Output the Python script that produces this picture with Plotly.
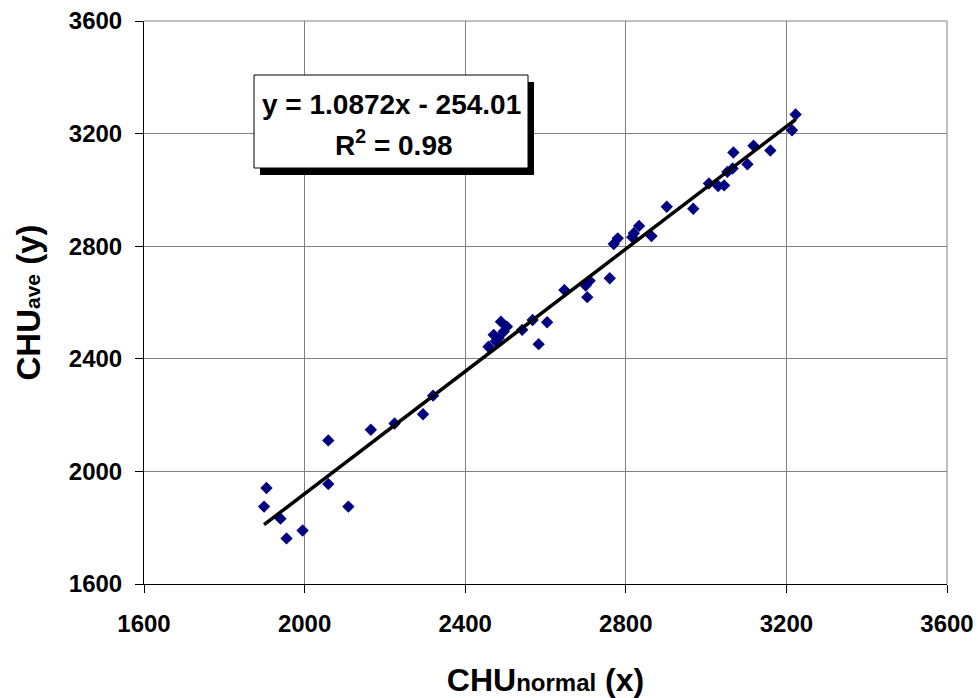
import plotly.graph_objects as go

# ---- data ----
chu_normal = [1899, 1905, 1940, 1955, 1995, 2059, 2059, 2109, 2165, 2224, 2295, 2320,
              2458, 2471, 2483, 2476, 2489, 2504, 2496, 2542, 2568, 2604, 2583, 2647,
              2704, 2700, 2710, 2760, 2770, 2780, 2816, 2820, 2833, 2864, 2902, 2968,
              3007, 3030, 3045, 3053, 3066, 3068, 3103, 3118, 3160, 3214, 3223]
chu_ave = [1875, 1941, 1832, 1762, 1790, 2110, 1955, 1875, 2148, 2170, 2203, 2269,
           2443, 2485, 2473, 2462, 2532, 2514, 2497, 2503, 2538, 2530, 2452, 2644,
           2619, 2660, 2677, 2686, 2808, 2828, 2832, 2846, 2872, 2836, 2940, 2933,
           3023, 3014, 3016, 3064, 3076, 3133, 3091, 3157, 3140, 3212, 3268]
SLOPE = 1.0872
INTERCEPT = -254.01
R2 = 0.98
tick_vals = [1600, 2000, 2400, 2800, 3200, 3600]

# trendline over the data's x span
fit_x = [min(chu_normal), max(chu_normal)]
fit_y = [SLOPE * v + INTERCEPT for v in fit_x]

W, H = 978, 698
ML, MR, MT, MB = 144, 31, 21, 114
PW, PH = W - ML - MR, H - MT - MB

def px(xp):
    return (xp - ML) / PW

def py(yp):
    return (H - MB - yp) / PH

FONT = "Liberation Sans, Arial, sans-serif"

fig = go.Figure()
fig.add_trace(go.Scatter(
    x=chu_normal, y=chu_ave, mode="markers",
    marker=dict(symbol="diamond", size=9.5, color="#000080"),
    showlegend=False, hoverinfo="x+y"))
fig.add_trace(go.Scatter(
    x=fit_x, y=fit_y, mode="lines",
    line=dict(color="black", width=3.5),
    showlegend=False, hoverinfo="skip"))

axis_common = dict(
    range=[1600, 3600], tickvals=tick_vals, ticktext=[str(v) for v in tick_vals],
    showgrid=True, gridcolor="#808080", gridwidth=1,
    showline=True, linecolor="black", linewidth=1,
    ticks="outside", ticklen=8, tickcolor="black", tickwidth=1,
    tickfont=dict(family=FONT, size=24, color="black", weight="bold"),
    zeroline=False, fixedrange=True, automargin=False,
)

fig.update_layout(
    width=W, height=H,
    margin=dict(l=ML, r=MR, t=MT, b=MB, pad=0, autoexpand=False),
    paper_bgcolor="white", plot_bgcolor="white",
    font=dict(family=FONT, color="black"),
    xaxis=dict(**axis_common, ticklabelstandoff=10,
               title=dict(text="CHU<span style='font-size:24px'>normal</span> (x)", standoff=32,
                          font=dict(family=FONT, size=32, color="black", weight="bold"))),
    yaxis=dict(**axis_common, ticklabelstandoff=8,
               title=dict(text="CHU<span style='font-size:21px'>ave</span> (y)", standoff=18,
                          font=dict(family=FONT, size=33, color="black", weight="bold"))),
)

# top and right border as grey lines (gridlines at the range ends)
fig.add_shape(type="line", xref="paper", yref="paper", x0=0, x1=1, y0=1, y1=1,
              line=dict(color="#808080", width=1))
fig.add_shape(type="line", xref="paper", yref="paper", x0=1, x1=1, y0=0, y1=1,
              line=dict(color="#808080", width=1))

# equation box with shadow
bx0, bx1, by0, by1 = 254, 528, 75, 168
fig.add_shape(type="rect", xref="paper", yref="paper",
              x0=px(bx0 + 6), x1=px(bx1 + 6), y0=py(by1 + 7), y1=py(by0 + 7),
              fillcolor="black", line=dict(width=0), layer="above")
fig.add_shape(type="rect", xref="paper", yref="paper",
              x0=px(bx0), x1=px(bx1), y0=py(by1), y1=py(by0),
              fillcolor="white", line=dict(color="black", width=1), layer="above")

fig.add_annotation(xref="paper", yref="paper", x=px(391), y=py(104),
                   text=f"y = {SLOPE}x - {abs(INTERCEPT):.2f}", showarrow=False,
                   xanchor="center", yanchor="middle",
                   font=dict(family=FONT, size=28, color="black", weight="bold"))
fig.add_annotation(xref="paper", yref="paper", x=px(394), y=py(143),
                   text=f"R<sup>2</sup> = {R2:.2f}", showarrow=False,
                   xanchor="center", yanchor="middle",
                   font=dict(family=FONT, size=28, color="black", weight="bold"))

fig.write_html("out.html", config={"displayModeBar": False},
               post_script="document.body.style.margin='0';document.body.style.overflow='hidden';")
